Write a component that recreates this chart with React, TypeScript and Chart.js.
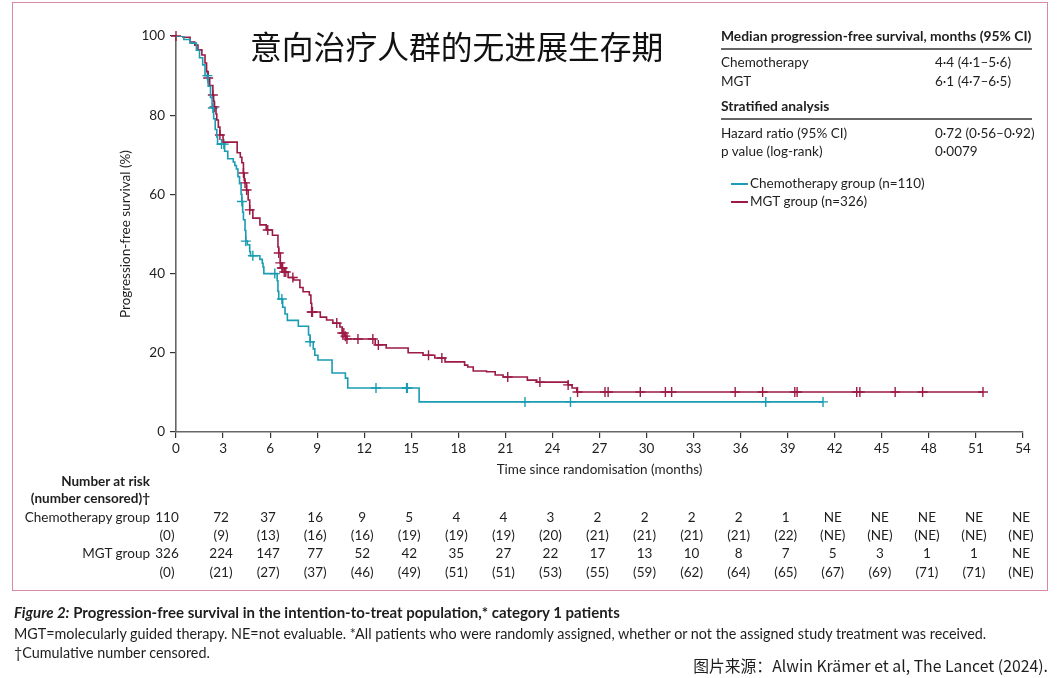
import React, { useEffect, useRef } from 'react';
import { Chart, registerables } from 'chart.js';

Chart.register(...registerables);

// ---------- data ----------
const timeTicks = [0, 3, 6, 9, 12, 15, 18, 21, 24, 27, 30, 33, 36, 39, 42, 45, 48, 51, 54];

const chemoEventTimes = [0.5, 0.9, 1.3, 1.5, 1.7, 1.85, 2.05, 2.2, 2.3, 2.4, 2.5, 2.6, 2.65, 3.1, 3.3, 3.65, 3.75, 3.85, 3.95, 4.05, 4.15, 4.2, 4.25, 4.3, 4.4, 4.45, 4.55, 4.7, 4.75, 5.35, 5.5, 5.55, 5.6, 6.45, 6.5, 6.55, 6.8, 6.95, 7.1, 7.8, 8.45, 8.55, 8.75, 8.85, 9.05, 9.95, 10.8, 10.95, 15.5];
const chemoSurvival = [99.1, 98.2, 96.4, 94.5, 92.7, 90.0, 87.3, 84.5, 81.8, 79.1, 76.4, 74.5, 72.7, 70.9, 69.0, 68.2, 67.3, 66.4, 64.5, 62.7, 60.0, 58.2, 55.5, 53.6, 50.9, 48.2, 47.3, 45.5, 44.5, 43.6, 42.6, 41.7, 40.0, 38.2, 35.5, 33.6, 31.5, 29.8, 28.2, 26.7, 24.5, 22.8, 21.0, 19.4, 18.2, 14.9, 13.6, 11.1, 7.6];
const chemoCensorTimes = [2.0, 2.35, 2.9, 3.05, 4.2, 4.45, 4.9, 6.3, 6.75, 8.55, 12.75, 14.7, 14.75, 22.25, 25.15, 37.6, 41.25];
const chemoLastFollowUp = 41.25;

const mgtEventTimes = [0.45, 0.9, 1.2, 1.4, 1.65, 1.85, 1.95, 2.05, 2.15, 2.35, 2.4, 2.45, 2.55, 2.6, 2.7, 2.8, 3.0, 3.9, 4.1, 4.2, 4.3, 4.35, 4.4, 4.5, 4.6, 4.7, 4.9, 5.35, 5.75, 6.15, 6.5, 6.55, 6.65, 6.75, 6.9, 7.15, 7.5, 7.9, 8.1, 8.5, 8.6, 8.65, 9.2, 9.6, 10.0, 10.45, 10.6, 10.75, 10.9, 12.7, 13.4, 14.8, 15.75, 16.5, 17.15, 18.4, 18.6, 18.95, 19.8, 20.35, 20.85, 22.4, 23.0, 25.0, 25.25, 25.55];
const mgtSurvival = [99.7, 98.5, 97.7, 96.5, 95.2, 93.2, 91.0, 89.4, 87.5, 85.1, 83.5, 82.1, 80.3, 78.8, 77.0, 75.0, 73.2, 70.5, 69.4, 68.0, 65.4, 63.5, 62.9, 61.1, 58.6, 56.1, 54.0, 52.3, 51.0, 49.7, 46.7, 45.2, 42.7, 41.4, 40.4, 39.0, 38.4, 36.5, 35.4, 34.6, 32.5, 30.3, 29.0, 28.3, 27.5, 26.5, 25.0, 24.2, 23.5, 22.0, 21.2, 20.0, 19.4, 18.7, 17.7, 16.9, 16.4, 15.4, 15.2, 14.4, 13.9, 13.1, 12.6, 11.9, 11.1, 10.1];
const mgtCensorTimes = [0, 2.05, 2.35, 2.45, 2.8, 4.3, 4.4, 4.5, 4.7, 5.85, 6.55, 6.65, 6.75, 6.8, 6.9, 7.0, 7.45, 8.65, 8.7, 10.25, 10.6, 10.7, 10.8, 10.9, 11.6, 12.55, 12.9, 16.1, 16.95, 21.15, 23.2, 25.0, 25.6, 27.35, 27.55, 29.6, 31.2, 31.6, 35.65, 37.4, 39.45, 39.6, 43.4, 43.6, 45.85, 47.6, 51.45];
const mgtLastFollowUp = 51.45;

const chemoAtRisk = ['110', '72', '37', '16', '9', '5', '4', '4', '3', '2', '2', '2', '2', '1', 'NE', 'NE', 'NE', 'NE', 'NE'];
const chemoCensored = ['(0)', '(9)', '(13)', '(16)', '(16)', '(19)', '(19)', '(19)', '(20)', '(21)', '(21)', '(21)', '(21)', '(22)', '(NE)', '(NE)', '(NE)', '(NE)', '(NE)'];
const mgtAtRisk = ['326', '224', '147', '77', '52', '42', '35', '27', '22', '17', '13', '10', '8', '7', '5', '3', '1', '1', 'NE'];
const mgtCensored = ['(0)', '(21)', '(27)', '(37)', '(46)', '(49)', '(51)', '(51)', '(53)', '(55)', '(59)', '(62)', '(64)', '(65)', '(67)', '(69)', '(71)', '(71)', '(NE)'];

// ---------- style ----------
const W = 1060;
const H = 678;
const FONT = 'Lato, "Noto Sans", sans-serif';
const TEAL = '#1a9cb2';
const CRIMSON = '#9c1a44';
const TEXT = '#1e1e1e';

function kmPoints(times: number[], surv: number[], end: number) {
  const pts = [{ x: 0, y: 100 }];
  times.forEach((t, i) => pts.push({ x: t, y: surv[i] }));
  pts.push({ x: end, y: surv[surv.length - 1] });
  return pts;
}
function survAt(times: number[], surv: number[], t: number) {
  let s = 100;
  for (let i = 0; i < times.length; i++) if (times[i] <= t) s = surv[i];
  return s;
}
function censorPoints(times: number[], surv: number[], cens: number[]) {
  return cens.map((t) => ({ x: t, y: survAt(times, surv, t) }));
}

const atRiskPlugin = {
  id: 'atRisk',
  afterDraw(chart: any) {
    const ctx = chart.ctx;
    const xs = chart.scales.x;
    ctx.save();
    ctx.font = `13.5px ${FONT}`;
    ctx.fillStyle = TEXT;
    ctx.textAlign = 'center';
    ctx.textBaseline = 'middle';
    const rows: [string[], number][] = [
      [chemoAtRisk, 518],
      [chemoCensored, 536],
      [mgtAtRisk, 554],
      [mgtCensored, 573],
    ];
    rows.forEach(([vals, y]) => {
      timeTicks.forEach((t, i) => {
        const off = i === 0 ? -9 : -2;
        ctx.fillText(vals[i], xs.getPixelForValue(t) + off, y);
      });
    });
    ctx.restore();
  },
};

type TP = { x: number; y: number; align?: 'left' | 'right' | 'center'; size?: number; weight?: number; italic?: boolean; family?: string; color?: string; children?: any };
function T({ x, y, align = 'left', size = 13.5, weight = 400, italic = false, family = FONT, color = TEXT, children }: TP) {
  const style: any = {
    position: 'absolute',
    top: y,
    whiteSpace: 'nowrap',
    fontSize: size,
    fontWeight: weight,
    fontStyle: italic ? 'italic' : 'normal',
    fontFamily: family,
    color,
    lineHeight: 1,
    transform: 'translateY(-50%)',
  };
  if (align === 'left') style.left = x;
  else if (align === 'right') style.right = W - x;
  else {
    style.left = x;
    style.transform = 'translate(-50%,-50%)';
  }
  return <div style={style}>{children}</div>;
}

export default function App() {
  const ref = useRef<HTMLCanvasElement | null>(null);

  useEffect(() => {
    if (!ref.current) return;
    const tickFont = { family: FONT, size: 13.5 };
    const chart = new Chart(ref.current, {
      type: 'line',
      data: {
        datasets: [
          {
            label: 'Chemotherapy group (n=110)',
            data: kmPoints(chemoEventTimes, chemoSurvival, chemoLastFollowUp),
            borderColor: TEAL,
            borderWidth: 1.6,
            pointRadius: 0,
            stepped: true,
            fill: false,
          },
          {
            label: 'MGT group (n=326)',
            data: kmPoints(mgtEventTimes, mgtSurvival, mgtLastFollowUp),
            borderColor: CRIMSON,
            borderWidth: 1.6,
            pointRadius: 0,
            stepped: true,
            fill: false,
          },
          {
            type: 'scatter',
            label: 'chemo censored',
            data: censorPoints(chemoEventTimes, chemoSurvival, chemoCensorTimes),
            showLine: false,
            pointStyle: 'cross',
            pointRadius: 5,
            borderColor: TEAL,
            backgroundColor: TEAL,
            pointBorderWidth: 1.4,
            clip: false,
          } as any,
          {
            type: 'scatter',
            label: 'MGT censored',
            data: censorPoints(mgtEventTimes, mgtSurvival, mgtCensorTimes),
            showLine: false,
            pointStyle: 'cross',
            pointRadius: 5,
            borderColor: CRIMSON,
            backgroundColor: CRIMSON,
            pointBorderWidth: 1.4,
            clip: false,
          } as any,
        ],
      },
      options: {
        animation: false,
        responsive: false,
        maintainAspectRatio: false,
        layout: { padding: { left: 116, right: 37, top: 36, bottom: 200 } },
        plugins: { legend: { display: false }, tooltip: { enabled: false } },
        scales: {
          x: {
            type: 'linear',
            min: 0,
            max: 54,
            afterFit: (s: any) => {
              s.height = 46;
            },
            afterBuildTicks: (s: any) => {
              s.ticks = timeTicks.map((v) => ({ value: v }));
            },
            ticks: { font: tickFont, color: TEXT, padding: 3, autoSkip: false, maxRotation: 0 },
            grid: { drawOnChartArea: false, drawTicks: true, tickLength: 6, color: '#333', lineWidth: 1.2 },
            border: { display: true, color: '#666', width: 1.6 },
            title: {
              display: true,
              text: 'Time since randomisation (months)',
              font: { family: FONT, size: 13.5 },
              color: TEXT,
              padding: { top: 0, bottom: 0 },
            },
          },
          y: {
            min: 0,
            max: 100,
            afterFit: (s: any) => {
              s.width = 60;
            },
            ticks: { stepSize: 20, font: tickFont, color: TEXT, padding: 5 },
            grid: { drawOnChartArea: false, drawTicks: true, tickLength: 6, color: '#333', lineWidth: 1.2 },
            border: { display: true, color: '#666', width: 1.6 },
            title: {
              display: true,
              text: 'Progression-free survival (%)',
              font: { family: FONT, size: 13.5 },
              color: TEXT,
              padding: { top: 2, bottom: 0 },
            },
          },
        },
      } as any,
      plugins: [atRiskPlugin],
    });
    return () => chart.destroy();
  }, []);

  return (
    <div style={{ position: 'fixed', left: 0, top: 0, width: W, height: H, background: '#fff', overflow: 'hidden' }}>
      <div style={{ position: 'absolute', left: 12, top: 2, width: 1036, height: 589, border: '1px solid #d98aa0', boxSizing: 'border-box' }} />
      <canvas ref={ref} width={W} height={H} style={{ position: 'absolute', left: 0, top: 0, display: 'block' }} />

      <T x={250} y={46} size={31.8} family='"Noto Sans CJK SC", sans-serif' color="#111">意向治疗人群的无进展生存期</T>

      <T x={721} y={36} weight={700} size={13.85}>Median progression-free survival, months (95% CI)</T>
      <div style={{ position: 'absolute', left: 721, top: 48, width: 311, height: 1.5, background: '#666' }} />
      <T x={721} y={63}>Chemotherapy</T>
      <T x={935} y={63}>4·4 (4·1–5·6)</T>
      <T x={721} y={82}>MGT</T>
      <T x={935} y={82}>6·1 (4·7–6·5)</T>
      <T x={721} y={106} weight={700} size={13.85}>Stratified analysis</T>
      <div style={{ position: 'absolute', left: 721, top: 118, width: 311, height: 1.5, background: '#666' }} />
      <T x={721} y={134}>Hazard ratio (95% CI)</T>
      <T x={935} y={134}>0·72 (0·56–0·92)</T>
      <T x={721} y={152}>p value (log-rank)</T>
      <T x={935} y={152}>0·0079</T>

      <div style={{ position: 'absolute', left: 731, top: 183, width: 17, height: 1.5, background: TEAL }} />
      <T x={750} y={184}>Chemotherapy group (n=110)</T>
      <div style={{ position: 'absolute', left: 731, top: 201, width: 17, height: 1.5, background: CRIMSON }} />
      <T x={750} y={202}>MGT group (n=326)</T>

      <T x={150} y={482} align="right" weight={700}>Number at risk</T>
      <T x={150} y={499} align="right" weight={700}>(number censored)†</T>
      <T x={150} y={518} align="right">Chemotherapy group</T>
      <T x={150} y={554} align="right">MGT group</T>

      <T x={14} y={612} weight={700} size={15}>
        <span style={{ fontStyle: 'italic' }}>Figure 2:</span> Progression-free survival in the intention-to-treat population,* category 1 patients
      </T>
      <T x={14} y={634} size={14.35}>
        MGT=molecularly guided therapy. NE=not evaluable. *All patients who were randomly assigned, whether or not the assigned study treatment was received.
      </T>
      <T x={14} y={653} size={14.35}>†Cumulative number censored.</T>
      <T x={1048} y={666} align="right" size={15.8} family='"Noto Sans CJK SC", sans-serif'>图片来源：Alwin Krämer et al, The Lancet (2024).</T>
    </div>
  );
}
